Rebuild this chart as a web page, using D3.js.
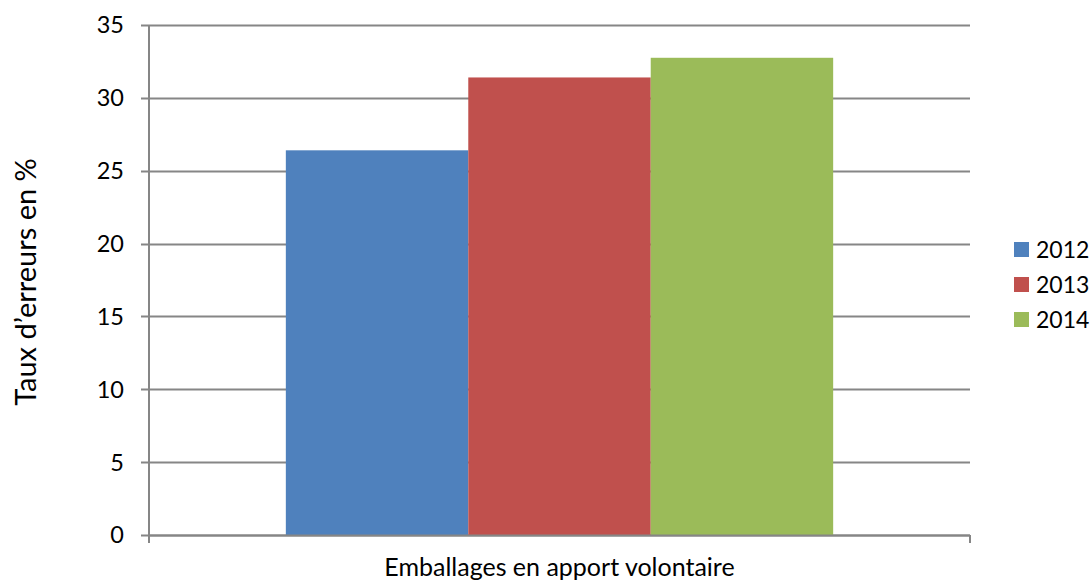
<!DOCTYPE html>
<html>
<meta charset="utf-8">
<script src="https://d3js.org/d3.v7.js"></script>
<style>
    body { margin: 0; background: #fff; }
    text { font-family: Lato, "Open Sans", sans-serif; fill: #000; }
</style>
<body>
    <div id="chart"></div>
    <script>

        // data
        var categories = ["Emballages en apport volontaire"];
        var years = ["2012", "2013", "2014"];
        var values = [26.4, 31.4, 32.75];
        var colors = ["#4f81bd", "#c0504d", "#9bbb59"];
        var yTicks = [0, 5, 10, 15, 20, 25, 30, 35];

        var margin = { top: 25, right: 122, bottom: 48, left: 149 },
            width = 1092 - margin.left - margin.right,
            height = 583 - margin.top - margin.bottom;

        var svg = d3.select("#chart")
            .append("svg")
            .attr("width", 1092)
            .attr("height", 583)
            .append("g")
            .attr("transform", "translate(" + margin.left + "," + margin.top + ")");

        var y = d3.scaleLinear().domain([0, 35]).range([height, 0]);

        var x0 = d3.scaleBand()
            .domain(categories)
            .range([0, width])
            .paddingInner(0)
            .paddingOuter(0.25);

        var x1 = d3.scaleBand()
            .domain(years)
            .range([0, x0.bandwidth()]);

        // gridlines + left ticks
        svg.append("g")
            .selectAll("line")
            .data(yTicks)
            .enter()
            .append("line")
            .attr("x1", -8)
            .attr("x2", width)
            .attr("y1", function (d) { return Math.round(y(d)) + 0.5 })
            .attr("y2", function (d) { return Math.round(y(d)) + 0.5 })
            .attr("stroke", "#868686")
            .attr("stroke-width", 2);

        // bars
        svg.append("g")
            .selectAll("rect")
            .data(values)
            .enter()
            .append("rect")
            .attr("x", function (d, i) { return x0(categories[0]) + x1(years[i]) })
            .attr("y", function (d) { return y(d) })
            .attr("width", x1.bandwidth())
            .attr("height", function (d) { return height - y(d) })
            .attr("fill", function (d, i) { return colors[i] });

        // axes lines
        svg.append("line")
            .attr("x1", 0).attr("x2", 0)
            .attr("y1", 0).attr("y2", height + 8)
            .attr("stroke", "#868686").attr("stroke-width", 2);
        svg.append("line")
            .attr("x1", 0).attr("x2", width)
            .attr("y1", Math.round(y(0)) + 0.5).attr("y2", Math.round(y(0)) + 0.5)
            .attr("stroke", "#868686").attr("stroke-width", 2);
        svg.append("line")
            .attr("x1", width).attr("x2", width)
            .attr("y1", height).attr("y2", height + 8)
            .attr("stroke", "#868686").attr("stroke-width", 2);

        // y tick labels
        svg.append("g")
            .selectAll("text")
            .data(yTicks)
            .enter()
            .append("text")
            .attr("x", -25)
            .attr("y", function (d) { return y(d) })
            .attr("dy", "0.36em")
            .attr("text-anchor", "end")
            .style("font-size", "23.5px")
            .text(function (d) { return d });

        // x label
        svg.append("text")
            .attr("x", x0(categories[0]) + x0.bandwidth() / 2)
            .attr("y", height + 41)
            .attr("text-anchor", "middle")
            .style("font-size", "25px")
            .text(categories[0]);

        // y title
        svg.append("text")
            .attr("transform", "translate(" + (-113) + "," + (height / 2 + 2) + ") rotate(-90)")
            .attr("text-anchor", "middle")
            .style("font-size", "29px")
            .text("Taux d\u2019erreurs en %");

        // legend
        var legend = svg.append("g")
            .attr("transform", "translate(" + (width + 44) + "," + 216 + ")");
        legend.selectAll("rect")
            .data(years)
            .enter()
            .append("rect")
            .attr("x", 0)
            .attr("y", function (d, i) { return i * 35 + 1 })
            .attr("width", 15)
            .attr("height", 15)
            .attr("fill", function (d, i) { return colors[i] });
        legend.selectAll("text")
            .data(years)
            .enter()
            .append("text")
            .attr("x", 22)
            .attr("y", function (d, i) { return i * 35 + 9 })
            .attr("dy", "0.36em")
            .style("font-size", "23px")
            .text(function (d) { return d });

    </script>
</body>
</html>
